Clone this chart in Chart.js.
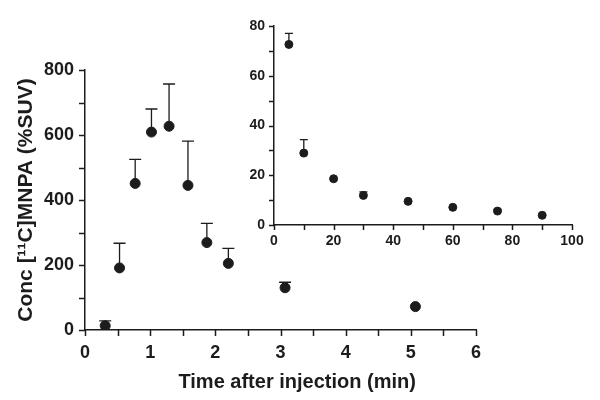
<!doctype html>
<html>

<head>
    <title>MNPA</title>
    <script src="https://cdn.jsdelivr.net/npm/chart.js"></script>
    <style>
        body { margin: 0; background: #fff; }
        #wrap { position: relative; width: 600px; height: 400px; }
        #inset { position: absolute; left: 230px; top: 0; }
    </style>
</head>

<body>
    <div id="wrap">
        <canvas id="main" width="600" height="400"></canvas>
        <canvas id="inset" width="370" height="260"></canvas>
    </div>

    <script>
        // main plot, first minutes
        var mainTime = [0.31, 0.53, 0.77, 1.02, 1.29, 1.58, 1.87, 2.20, 3.07, 5.07];
        var mainConc = [13, 191, 451, 609, 627, 445, 269, 205, 130, 72];
        var mainSD = [15, 76, 74, 71, 130, 136, 59, 46, 17, 0];

        // inset, later times
        var insetTime = [5, 10, 20, 30, 45, 60, 75, 90];
        var insetConc = [72.6, 28.9, 18.6, 11.9, 9.5, 7.1, 5.6, 3.9];
        var insetSD = [4.4, 5.4, 0, 1.4, 0, 0, 0.7, 0];

        var ink = '#1c1c1c';
        var fam = '"Liberation Sans", Arial, sans-serif';

        // upper error bars from dataset.sd, plus a mark on every tick (minor ones too)
        var errorBars = {
            id: 'errorBars',
            afterDraw: function (chart, args, opts) {
                var ctx = chart.ctx;
                var xs = chart.scales.x, ys = chart.scales.y;
                ctx.save();
                ctx.strokeStyle = ink;
                ctx.lineWidth = 1.5;
                ctx.beginPath();
                xs.ticks.forEach(function (t) {
                    var px = Math.round(xs.getPixelForValue(t.value)) + 0.5;
                    ctx.moveTo(px, xs.top);
                    ctx.lineTo(px, xs.top + opts.tick);
                });
                ys.ticks.forEach(function (t) {
                    var py = Math.round(ys.getPixelForValue(t.value)) + 0.5;
                    ctx.moveTo(ys.right, py);
                    ctx.lineTo(ys.right - opts.tick, py);
                });
                ctx.stroke();
                ctx.restore();
            },
            beforeDatasetsDraw: function (chart, args, opts) {
                var ctx = chart.ctx;
                var xs = chart.scales.x, ys = chart.scales.y;
                ctx.save();
                ctx.strokeStyle = ink;
                ctx.lineWidth = 1.3;
                chart.data.datasets.forEach(function (ds) {
                    ds.data.forEach(function (p, i) {
                        var sd = ds.sd[i];
                        if (!sd) return;
                        var px = xs.getPixelForValue(p.x);
                        var y0 = ys.getPixelForValue(p.y);
                        var y1 = ys.getPixelForValue(p.y + sd);
                        ctx.beginPath();
                        ctx.moveTo(px, y0);
                        ctx.lineTo(px, y1);
                        ctx.moveTo(px - opts.cap, y1);
                        ctx.lineTo(px + opts.cap, y1);
                        ctx.stroke();
                    });
                });
                ctx.restore();
            }
        };

        function pts(xs, ys) {
            return xs.map(function (x, i) { return { x: x, y: ys[i] }; });
        }

        function axis(min, max, step, every, size, extra) {
            var a = {
                type: 'linear',
                min: min,
                max: max,
                border: { display: true, color: ink, width: 1.5 },
                grid: { drawOnChartArea: false, drawTicks: true, tickLength: 6, color: 'rgba(0,0,0,0)' },
                ticks: {
                    stepSize: step,
                    autoSkip: false,
                    maxRotation: 0,
                    color: ink,
                    font: { family: fam, size: size, weight: 'bold' },
                    callback: function (v) { return v % every === 0 ? v : ''; }
                }
            };
            return Object.assign(a, extra);
        }

        // leading spaces push the centred title a little right, as in the original
        var mainX = axis(0, 6, 0.5, 1, 18, {
            title: { display: true, text: '      Time after injection (min)', color: ink, font: { family: fam, size: 20, weight: 'bold' }, padding: { top: 0, bottom: 6 } },
            afterFit: function (s) { s.height = 70; }
        });
        mainX.ticks.padding = 6;
        var mainY = axis(0, 800, 100, 200, 18, {
            title: { display: true, text: 'Conc [¹¹C]MNPA (%SUV)', color: ink, font: { family: fam, size: 21, weight: 'bold' }, padding: { top: 14, bottom: 0 } },
            afterFit: function (s) { s.width = 85; }
        });
        mainY.ticks.padding = 5;

        new Chart(document.getElementById('main').getContext('2d'), {
            type: 'scatter',
            data: {
                datasets: [{
                    data: pts(mainTime, mainConc),
                    sd: mainSD,
                    backgroundColor: ink,
                    borderColor: ink,
                    pointRadius: 5
                }]
            },
            options: {
                responsive: false,
                animation: false,
                layout: { padding: { top: 70, right: 124, left: 0, bottom: 0 } },
                plugins: { legend: { display: false }, tooltip: { enabled: false }, errorBars: { cap: 6, tick: 6 } },
                scales: { x: mainX, y: mainY }
            },
            plugins: [errorBars]
        });

        var insX = axis(0, 100, 10, 20, 14, { afterFit: function (s) { s.height = 35; } });
        insX.ticks.padding = 3;
        insX.grid.tickLength = 5;
        var insY = axis(0, 80, 10, 20, 14, { afterFit: function (s) { s.width = 44; } });
        insY.ticks.padding = 4;
        insY.grid.tickLength = 5;

        new Chart(document.getElementById('inset').getContext('2d'), {
            type: 'scatter',
            data: {
                datasets: [{
                    data: pts(insetTime, insetConc),
                    sd: insetSD,
                    backgroundColor: ink,
                    borderColor: ink,
                    pointRadius: 4
                }]
            },
            options: {
                responsive: false,
                animation: false,
                layout: { padding: { top: 26, right: 28, left: 0, bottom: 0 } },
                plugins: { legend: { display: false }, tooltip: { enabled: false }, errorBars: { cap: 4, tick: 5 } },
                scales: { x: insX, y: insY }
            },
            plugins: [errorBars]
        });
    </script>
</body>

</html>
